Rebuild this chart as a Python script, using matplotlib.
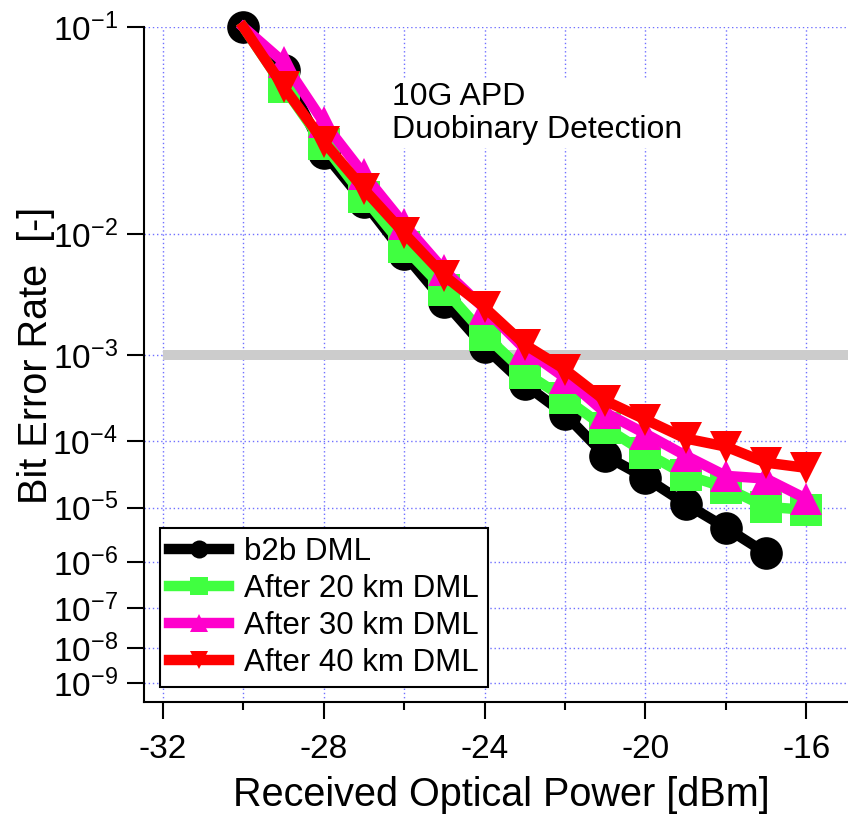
import numpy as np
import matplotlib
matplotlib.use("Agg")
import matplotlib.pyplot as plt
import matplotlib.ticker as ticker
from matplotlib.lines import Line2D

plt.rcParams['font.family'] = ['Liberation Sans', 'DejaVu Sans']
plt.rcParams['mathtext.fontset'] = 'custom'
plt.rcParams['mathtext.rm'] = 'Liberation Sans'
plt.rcParams['axes.unicode_minus'] = False

# received power [dBm]
power = [-30, -29, -28, -27, -26, -25, -24, -23, -22, -21, -20, -19, -18, -17, -16]

# BER readings
ber_b2b = [1.0e-1, 7.0e-2, 3.0e-2, 1.6e-2, 7.3e-3, 3.1e-3, 1.2e-3, 4.9e-4,
           2.2e-4, 6.3e-5, 3.0e-5, 1.16e-5, 4.5e-6, 1.5e-6]
ber_20km = [1.0e-1, 6.0e-2, 3.3e-2, 1.7e-2, 8.1e-3, 3.9e-3, 1.58e-3, 6.6e-4,
            3.4e-4, 1.5e-4, 6.9e-5, 3.3e-5, 2.1e-5, 1.03e-5, 9.2e-6]
ber_30km = [1.0e-1, 7.5e-2, 4.2e-2, 2.3e-2, 1.16e-2, 5.5e-3, 2.7e-3, 1.15e-3,
            5.8e-4, 2.3e-4, 1.25e-4, 6.3e-5, 3.2e-5, 2.9e-5, 1.4e-5]
ber_40km = [1.0e-1, 6.0e-2, 3.4e-2, 1.9e-2, 1.01e-2, 5.0e-3, 2.77e-3, 1.27e-3,
            7.1e-4, 3.2e-4, 1.89e-4, 1.08e-4, 8.4e-5, 5.0e-5, 4.2e-5]

fec_limit = 1e-3
series_labels = ['b2b DML', 'After 20 km DML', 'After 30 km DML', 'After 40 km DML']
y_ticks = [1e-1, 1e-2, 1e-3, 1e-4, 1e-5, 1e-6, 1e-7, 1e-8, 1e-9]
x_major = [-32, -28, -24, -20, -16]
x_minor = [-30, -26, -22, -18]


# BER axis: -log10(-log10(BER))
def fwd(b):
    b = np.clip(np.asarray(b, dtype=float), 1e-300, 0.9999999)
    return -np.log10(-np.log10(b))


def inv(y):
    y = np.clip(np.asarray(y, dtype=float), -2.5, 3.0)
    return 10.0 ** (-(10.0 ** (-y)))


fig = plt.figure(figsize=(8.48, 8.15), dpi=100)
ax = fig.add_axes([0.1698, 0.1387, 0.8302, 0.8282])
ax.set_yscale('function', functions=(fwd, inv))

ax.plot([-32, -14.96], [fec_limit, fec_limit], color='#cccccc', lw=7.2,
        solid_capstyle='butt', zorder=1.5)

lw = 7.5
ms = 23.5
ax.plot(power[:len(ber_b2b)], ber_b2b, color='black', lw=lw, marker='o', ms=ms,
        mew=0, clip_on=False, zorder=3)
ax.plot(power, ber_20km, color='#40ff40', lw=lw, marker='s', ms=ms, mew=0,
        markevery=slice(1, None), clip_on=False, zorder=3.1)
ax.plot(power, ber_30km, color='#ff00cc', lw=lw, marker='^', ms=ms, mew=0,
        markevery=slice(1, None), clip_on=False, zorder=3.2)
ax.plot(power, ber_40km, color='#ff0000', lw=lw, marker='v', ms=ms, mew=0,
        markevery=slice(1, None), clip_on=False, zorder=3.3)

ax.set_xlim(-32.47, -14.96)
ax.set_ylim(2.6e-10, 1e-1)

ax.xaxis.set_major_locator(ticker.FixedLocator(x_major))
ax.xaxis.set_minor_locator(ticker.FixedLocator(x_minor))
ax.xaxis.set_major_formatter(ticker.FuncFormatter(lambda v, _: f"{v:.0f}"))
ax.yaxis.set_major_locator(ticker.FixedLocator(y_ticks))
ax.yaxis.set_minor_locator(ticker.NullLocator())
ax.yaxis.set_major_formatter(ticker.FuncFormatter(
    lambda v, _: r'$\mathregular{10^{%d}}$' % round(np.log10(v))))

ax.grid(True, which='both', axis='x', color='#7070ff', lw=1.0, ls=(0, (1, 2)))
ax.grid(True, which='major', axis='y', color='#7070ff', lw=1.0, ls=(0, (1, 2)))
ax.set_axisbelow(True)

for s in ['top', 'right']:
    ax.spines[s].set_visible(False)
for s in ['left', 'bottom']:
    ax.spines[s].set_linewidth(1.5)

ax.tick_params(axis='both', which='major', length=12, width=1.5, labelsize=24)
ax.tick_params(axis='both', which='minor', length=6, width=1.5)
ax.tick_params(axis='x', which='major', pad=11)
ax.tick_params(axis='y', which='major', pad=7)

ax.set_xlabel('Received Optical Power [dBm]', fontsize=28.5, labelpad=8)
ax.xaxis.label.set_x(0.507)
ax.set_ylabel('Bit Error Rate  [-]', fontsize=28.5, labelpad=-2)
ax.yaxis.label.set_y(0.514)

ax.text(0.352, 0.9185, '10G APD\nDuobinary Detection', transform=ax.transAxes,
        ha='left', va='top', fontsize=23, linespacing=1.12,
        bbox=dict(facecolor='white', edgecolor='none', pad=2))

handles = [
    Line2D([], [], color='black', lw=lw, marker='o', ms=13, mew=0),
    Line2D([], [], color='#40ff40', lw=lw, marker='s', ms=13, mew=0),
    Line2D([], [], color='#ff00cc', lw=lw, marker='^', ms=13, mew=0),
    Line2D([], [], color='#ff0000', lw=lw, marker='v', ms=13, mew=0),
]
leg = ax.legend(handles, series_labels, loc='lower left',
                bbox_to_anchor=(0.0227, 0.0222), borderaxespad=0, fontsize=22.5,
                numpoints=1, handlelength=1.9, handletextpad=0.5,
                labelspacing=0.22, borderpad=0.3, fancybox=False,
                framealpha=1, edgecolor='black')
leg.get_frame().set_linewidth(1.5)
leg.set_zorder(5)

fig.savefig('out.png', dpi=100)
